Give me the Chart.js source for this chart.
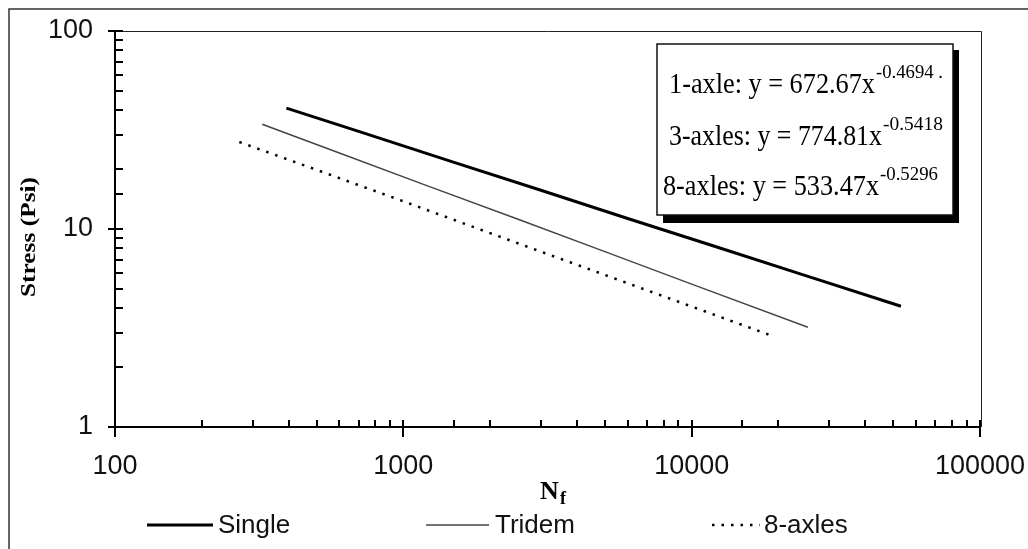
<!DOCTYPE html>
<html><head><meta charset="utf-8">
<script src="https://cdn.jsdelivr.net/npm/chart.js@4/dist/chart.umd.min.js"></script>
<style>html,body{margin:0;padding:0;background:#fff;}canvas{display:block;}</style>
</head><body>
<canvas id="c" width="1028" height="549"></canvas>
<script>
// ---- data ----
const singleN      = [393, 700, 1500, 3000, 6000, 12000, 25000, 53200];
const singleStress = [40.8, 31.1, 21.7, 15.7, 11.3, 8.18, 5.80, 4.07];
const tridemN      = [324, 600, 1200, 2500, 5000, 10000, 25300];
const tridemStress = [33.8, 24.2, 16.6, 11.2, 7.68, 5.27, 3.19];
const axles8N      = [270, 500, 1000, 2000, 4000, 8000, 18500];
const axles8Stress = [27.5, 19.9, 13.8, 9.53, 6.60, 4.57, 2.93];
const seriesNames  = ['Single', 'Tridem', '8-axles'];
const xTickLabels  = [100, 1000, 10000, 100000];
const yTickLabels  = [1, 10, 100];
const equations    = [
  ['1-axle: y = 672.67x', '-0.4694 .'],
  ['3-axles: y = 774.81x', '-0.5418'],
  ['8-axles: y = 533.47x', '-0.5296']
];
const xTitleMain = 'N', xTitleSub = 'f';
const yTitle = 'Stress (Psi)';

const SANS = '"Liberation Sans", Arial, sans-serif';
const SERIF = '"Liberation Serif", "Times New Roman", serif';
const isPow10 = v => Math.abs(Math.log10(v) - Math.round(Math.log10(v))) < 1e-9;
const pts = (xs, ys) => xs.map((x, i) => ({x: x, y: ys[i]}));

// draw text horizontally squeezed/stretched so that it spans width w
function fitText(ctx, txt, x, y, w) {
  const nat = ctx.measureText(txt).width;
  ctx.save(); ctx.translate(x, y); ctx.scale(w / nat, 1); ctx.fillText(txt, 0, 0); ctx.restore();
}

const overlay = {
  id: 'overlay',
  afterDraw(chart) {
    const ctx = chart.ctx, a = chart.chartArea, xs = chart.scales.x, ys = chart.scales.y;
    ctx.save();
    // outer frame (left and top)
    ctx.strokeStyle = '#333'; ctx.lineWidth = 1.5;
    ctx.beginPath(); ctx.moveTo(9, 549); ctx.lineTo(9, 9); ctx.lineTo(1028, 9); ctx.stroke();
    // plot frame top/right
    ctx.strokeStyle = '#222'; ctx.lineWidth = 1;
    ctx.beginPath(); ctx.moveTo(a.left, a.top + 0.5); ctx.lineTo(a.right + 1.5, a.top + 0.5); ctx.lineTo(a.right + 1.5, a.bottom); ctx.stroke();
    // axes
    ctx.strokeStyle = '#000'; ctx.lineWidth = 2;
    ctx.beginPath();
    ctx.moveTo(a.left, a.bottom); ctx.lineTo(a.right, a.bottom);
    ctx.moveTo(a.left, a.top); ctx.lineTo(a.left, a.bottom);
    xs.ticks.forEach(t => {
      const p = Math.round(xs.getPixelForValue(t.value));
      ctx.moveTo(p, a.bottom - 7); ctx.lineTo(p, a.bottom + (isPow10(t.value) ? 10 : 0));
    });
    ys.ticks.forEach(t => {
      const p = Math.round(ys.getPixelForValue(t.value));
      ctx.moveTo(a.left - (isPow10(t.value) ? 7 : 0), p); ctx.lineTo(a.left + 8, p);
    });
    ctx.stroke();
    // y title
    ctx.fillStyle = '#000';
    ctx.save();
    ctx.translate(30, 237); ctx.rotate(-Math.PI / 2);
    ctx.font = 'bold 21px ' + SERIF; ctx.textBaseline = 'middle'; ctx.textAlign = 'left';
    fitText(ctx, yTitle, -60, 0, 120);
    ctx.restore();
    // x title N_f
    ctx.textBaseline = 'alphabetic'; ctx.textAlign = 'left';
    ctx.font = 'bold 26px ' + SERIF;
    const wN = ctx.measureText(xTitleMain).width;
    ctx.font = 'bold 18px ' + SERIF;
    const wf = ctx.measureText(xTitleSub).width;
    const x0 = (a.left + a.right) / 2 + 5 - (wN + wf) / 2;
    ctx.font = 'bold 26px ' + SERIF; ctx.fillText(xTitleMain, x0, 499);
    ctx.font = 'bold 18px ' + SERIF; ctx.fillText(xTitleSub, x0 + wN + 1, 504);
    // bottom legend
    const legX = [[147, 213, 218], [426, 489, 495], [712, 760, 764]];
    chart.data.datasets.forEach((ds, i) => {
      const [l1, l2, tx] = legX[i];
      ctx.save();
      ctx.strokeStyle = ds.borderColor; ctx.lineWidth = ds.borderWidth;
      ctx.setLineDash(ds.borderDash || []);
      ctx.beginPath(); ctx.moveTo(l1, 525); ctx.lineTo(l2, 525); ctx.stroke();
      ctx.restore();
      ctx.fillStyle = '#111'; ctx.font = '26px ' + SANS; ctx.textBaseline = 'middle';
      ctx.fillText(ds.label, tx, 526);
    });
    // equation box
    ctx.fillStyle = '#000'; ctx.fillRect(663, 50, 296, 173);
    ctx.fillStyle = '#fff'; ctx.fillRect(657, 44, 296, 171);
    ctx.strokeStyle = '#111'; ctx.lineWidth = 1.5; ctx.strokeRect(657, 44, 296, 171);
    const eqX = [669, 669, 663], eqY = [93, 145, 195];
    const eqW = [206, 213, 216], supEnd = [943, 943, 938];
    ctx.fillStyle = '#000'; ctx.textBaseline = 'alphabetic';
    equations.forEach((e, i) => {
      ctx.font = '29px ' + SERIF;
      fitText(ctx, e[0], eqX[i], eqY[i], eqW[i]);
      const sx = eqX[i] + eqW[i] + 1;
      ctx.font = '19px ' + SERIF;
      fitText(ctx, e[1], sx, eqY[i] - 15, supEnd[i] - sx);
    });
    ctx.restore();
  }
};

function build() {
  new Chart(document.getElementById('c'), {
    type: 'scatter',
    data: {
      datasets: [
        {label: seriesNames[0], data: pts(singleN, singleStress), showLine: true, borderColor: '#000', borderWidth: 3, pointRadius: 0, fill: false},
        {label: seriesNames[1], data: pts(tridemN, tridemStress), showLine: true, borderColor: '#444', borderWidth: 1.4, pointRadius: 0, fill: false},
        {label: seriesNames[2], data: pts(axles8N, axles8Stress), showLine: true, borderColor: '#000', borderWidth: 2.5, borderDash: [2.5, 7], pointRadius: 0, fill: false}
      ]
    },
    options: {
      responsive: false, animation: false, devicePixelRatio: 1,
      layout: {padding: {left: 0, right: 48, top: 31, bottom: 0}},
      plugins: {legend: {display: false}, tooltip: {enabled: false}},
      scales: {
        x: {
          type: 'logarithmic', position: 'bottom', min: 100, max: 100000,
          afterFit: s => { s.height = 122; s.paddingLeft = 0; s.paddingRight = 0; },
          grid: {display: false, drawTicks: false}, border: {display: false},
          ticks: {autoSkip: false, maxRotation: 0, padding: 23, color: '#111',
                  font: {family: SANS, size: 27},
                  callback: v => (xTickLabels.includes(Math.round(v)) && isPow10(v)) ? String(Math.round(v)) : ''}
        },
        y: {
          type: 'logarithmic', position: 'left', min: 1, max: 100,
          afterFit: s => { s.width = 115; s.paddingTop = 0; s.paddingBottom = 0; },
          grid: {display: false, drawTicks: false}, border: {display: false},
          ticks: {autoSkip: false, padding: 22, color: '#111',
                  font: {family: SANS, size: 27},
                  callback: v => (yTickLabels.includes(Math.round(v)) && isPow10(v)) ? String(Math.round(v)) : ''}
        }
      }
    },
    plugins: [overlay]
  });
}
Promise.all([
  document.fonts.load('26px "Liberation Sans"'),
  document.fonts.load('26px "Liberation Serif"'),
  document.fonts.load('bold 26px "Liberation Serif"')
]).then(build, build);
</script>
</body></html>
